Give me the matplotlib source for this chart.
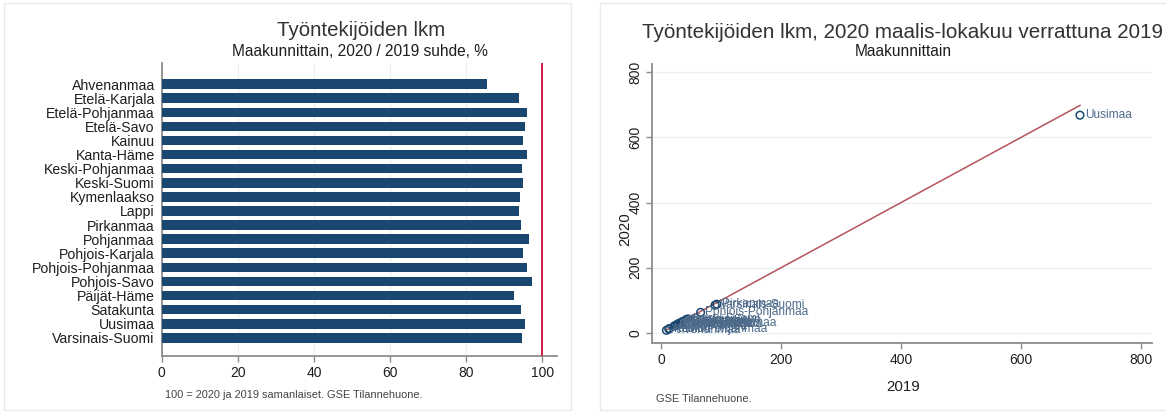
import matplotlib
matplotlib.use("Agg")
import matplotlib.pyplot as plt
from matplotlib.patches import Rectangle

plt.rcParams['font.family'] = ['Liberation Sans', 'DejaVu Sans']

# ---- data ----
regions = ["Ahvenanmaa", "Etelä-Karjala", "Etelä-Pohjanmaa", "Etelä-Savo", "Kainuu",
           "Kanta-Häme", "Keski-Pohjanmaa", "Keski-Suomi", "Kymenlaakso", "Lappi",
           "Pirkanmaa", "Pohjanmaa", "Pohjois-Karjala", "Pohjois-Pohjanmaa",
           "Pohjois-Savo", "Päijät-Häme", "Satakunta", "Uusimaa", "Varsinais-Suomi"]
ratio = [85.6, 93.8, 95.9, 95.5, 94.9, 96.0, 94.6, 95.0, 94.1, 93.9,
         94.5, 96.4, 94.9, 95.9, 97.2, 92.5, 94.5, 95.5, 94.7]
emp_2019 = [9, 22, 32, 24, 13, 30, 14, 45, 29, 30,
            93, 36, 27, 66, 42, 35, 38, 698, 90]
emp_2020 = [8, 21, 31, 23, 12, 29, 13, 43, 27, 28,
            88, 35, 26, 63, 41, 32, 36, 668, 85]
bar_ticks = [0, 20, 40, 60, 80, 100]
sc_ticks = [0, 200, 400, 600, 800]

W, H = 1166, 412
fig = plt.figure(figsize=(W / 100, H / 100), dpi=100)

def fx(px):
    return px / W

def fy(py):
    return 1 - py / H

NAVY = '#1a476f'
GRID = '#e8f0f1'
SPINE = '#8c8c8c'
TXT = '#1e1e1e'

# panel borders
fig.patches.append(Rectangle((fx(4), fy(410)), fx(567), 407 / H, transform=fig.transFigure,
                             fill=False, edgecolor='#e4ecee', lw=1.0))
fig.patches.append(Rectangle((fx(600), fy(410)), fx(570), 407 / H, transform=fig.transFigure,
                             fill=False, edgecolor='#e4ecee', lw=1.0))

# ---- left: bar chart ----
ax1 = fig.add_axes([fx(161.7), fy(356), fx(556.7 - 161.7), (356 - 63) / H])
pos = list(range(len(regions)))
ax1.barh(pos, ratio, height=0.68, color=NAVY, zorder=3)
ax1.axvline(100, color='#cc1f44', lw=1.4, zorder=4)
ax1.set_ylim(18 + 1.29, -1.5)
ax1.set_xlim(0, 103.8)
ax1.set_yticks(pos)
ax1.set_yticklabels(regions, fontsize=10.2, color=TXT)
ax1.set_xticks(bar_ticks)
ax1.set_xticklabels([str(t) for t in bar_ticks], fontsize=10, color=TXT)
for t in bar_ticks[1:-1]:
    ax1.axvline(t, color=GRID, lw=0.9, zorder=1)
ax1.tick_params(axis='y', length=0, pad=5)
ax1.tick_params(axis='x', length=4, color=SPINE, width=1, pad=3)
for s in ['top', 'right']:
    ax1.spines[s].set_visible(False)
for s in ['left', 'bottom']:
    ax1.spines[s].set_color(SPINE)
    ax1.spines[s].set_linewidth(1.3)

fig.text(fx(361), fy(31), "Työntekijöiden lkm", ha='center', va='center', fontsize=14.8, color='#333333')
fig.text(fx(360), fy(52), "Maakunnittain, 2020 / 2019 suhde, %", ha='center', va='center', fontsize=11.2, color=TXT)
fig.text(fx(165), fy(395), "100 = 2020 ja 2019 samanlaiset. GSE Tilannehuone.", ha='left', va='center',
         fontsize=7.9, color='#444444')

# ---- right: scatter ----
ax2 = fig.add_axes([fx(652.3), fy(343), fx(1152 - 652.3), (343 - 64) / H])
ax2.set_xlim(-14.5, 818)
ax2.set_ylim(-31, 825)
for t in sc_ticks:
    ax2.axhline(t, color=GRID, lw=0.9, zorder=1)
lo, hi = min(emp_2019), max(emp_2019)
ax2.plot([lo, hi], [lo, hi], color='#b5535c', lw=1.1, zorder=2)
ax2.scatter(emp_2019, emp_2020, s=30, facecolors='none', edgecolors=NAVY, linewidths=1.1, zorder=3)
for name, xv, yv in zip(regions, emp_2019, emp_2020):
    ax2.annotate(name, (xv, yv), xytext=(3.5, 0), textcoords='offset points', ha='left', va='center',
                 fontsize=8.6, color='#4d6a8a', zorder=4)
ax2.set_xticks(sc_ticks)
ax2.set_xticklabels([str(t) for t in sc_ticks], fontsize=10, color=TXT)
ax2.set_yticks(sc_ticks)
ax2.set_yticklabels([str(t) for t in sc_ticks], fontsize=10, color=TXT, rotation=90, va='center')
ax2.tick_params(axis='both', length=4, color=SPINE, width=1, pad=3)
for s in ['top', 'right']:
    ax2.spines[s].set_visible(False)
for s in ['left', 'bottom']:
    ax2.spines[s].set_color(SPINE)
    ax2.spines[s].set_linewidth(1.3)

fig.text(fx(903), fy(32), "Työntekijöiden lkm, 2020 maalis-lokakuu verrattuna 2019", ha='center', va='center',
         fontsize=14.9, color='#333333')
fig.text(fx(903), fy(52), "Maakunnittain", ha='center', va='center', fontsize=11.2, color=TXT)
fig.text(fx(903), fy(387), "2019", ha='center', va='center', fontsize=10.8, color=TXT)
fig.text(fx(625), fy(229), "2020", ha='center', va='center', fontsize=10.8, color=TXT, rotation=90)
fig.text(fx(656), fy(399), "GSE Tilannehuone.", ha='left', va='center', fontsize=7.9, color='#444444')

fig.savefig("out.png", dpi=100)
